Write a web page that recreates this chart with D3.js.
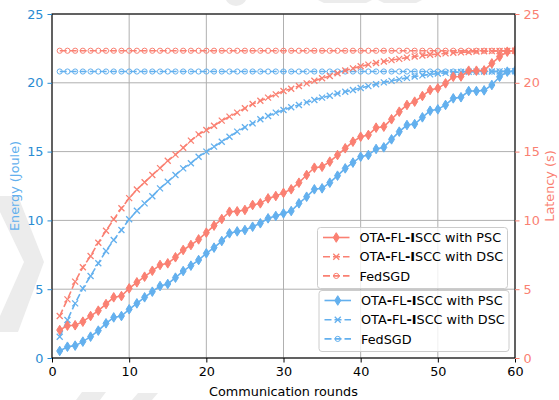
<!DOCTYPE html>
<html>
<head>
<meta charset="utf-8">
<script src="https://cdn.jsdelivr.net/npm/d3@7"></script>
<style>
  body { margin: 0; background: #fff; }
  svg { display: block; font-family: "DejaVu Sans", sans-serif; }
</style>
</head>
<body>
<div id="chart"></div>
<script>
// Energy (left axis) and latency (right axis) per communication round.
const rounds = d3.range(1, 61);

const energyPSC = [0.51, 0.82, 0.90, 1.19, 1.55, 1.99, 2.52, 2.95, 3.05, 3.54,
  3.97, 4.41, 4.82, 5.23, 5.38, 5.84, 6.32, 6.71, 7.12, 7.61,
  8.02, 8.50, 9.06, 9.20, 9.30, 9.54, 9.79, 10.15, 10.32, 10.51,
  10.68, 11.24, 11.72, 12.26, 12.33, 12.74, 13.25, 13.78, 14.20, 14.63,
  14.75, 15.19, 15.31, 15.89, 16.45, 16.93, 17.00, 17.49, 17.97, 18.07,
  18.39, 18.87, 18.95, 19.40, 19.40, 19.45, 19.84, 20.44, 20.81, 20.85];
const energyDSC = [1.55, 2.76, 3.97, 5.06, 5.96, 6.88, 7.78, 8.58, 9.30, 10.08,
  10.70, 11.24, 11.75, 12.33, 12.81, 13.30, 13.78, 14.15, 14.63, 15.00,
  15.36, 15.72, 16.08, 16.45, 16.77, 17.05, 17.35, 17.59, 17.83, 18.02,
  18.22, 18.39, 18.58, 18.75, 18.92, 19.06, 19.22, 19.35, 19.48, 19.62,
  19.76, 19.90, 20.03, 20.14, 20.25, 20.36, 20.46, 20.54, 20.61, 20.67,
  20.72, 20.76, 20.78, 20.80, 20.81, 20.82, 20.82, 20.83, 20.83, 20.84];
const energyFedSGD = [20.82, 20.82, 20.82, 20.82, 20.82, 20.82, 20.82, 20.82, 20.82, 20.82,
  20.82, 20.82, 20.82, 20.82, 20.82, 20.82, 20.82, 20.82, 20.82, 20.82,
  20.82, 20.82, 20.82, 20.82, 20.82, 20.82, 20.82, 20.82, 20.82, 20.82,
  20.82, 20.82, 20.82, 20.82, 20.82, 20.82, 20.82, 20.82, 20.82, 20.82,
  20.82, 20.82, 20.82, 20.82, 20.82, 20.82, 20.82, 20.82, 20.82, 20.82,
  20.82, 20.82, 20.82, 20.82, 20.82, 20.82, 20.82, 20.82, 20.82, 20.82];

const latencyPSC = [2.03, 2.35, 2.38, 2.64, 3.05, 3.44, 3.92, 4.41, 4.50, 5.06,
  5.50, 5.91, 6.34, 6.76, 6.88, 7.32, 7.85, 8.21, 8.62, 9.11,
  9.62, 10.10, 10.63, 10.66, 10.76, 11.12, 11.24, 11.60, 11.77, 12.00,
  12.26, 12.74, 13.30, 13.83, 13.90, 14.27, 14.75, 15.24, 15.72, 16.08,
  16.21, 16.74, 16.81, 17.35, 17.90, 18.39, 18.63, 19.04, 19.48, 19.60,
  19.96, 20.44, 20.46, 20.88, 20.88, 20.90, 21.41, 21.90, 22.26, 22.33];
const latencyDSC = [3.05, 4.26, 5.55, 6.59, 7.41, 8.38, 9.25, 10.08, 10.88, 11.62,
  12.24, 12.77, 13.30, 13.80, 14.33, 14.78, 15.28, 15.80, 16.25, 16.57,
  16.88, 17.25, 17.54, 17.83, 18.15, 18.46, 18.70, 18.92, 19.16, 19.40,
  19.57, 19.77, 19.96, 20.15, 20.33, 20.49, 20.69, 20.90, 21.05, 21.20,
  21.32, 21.44, 21.55, 21.65, 21.74, 21.83, 21.91, 21.98, 22.04, 22.09,
  22.14, 22.18, 22.21, 22.24, 22.27, 22.29, 22.30, 22.31, 22.32, 22.33];
const latencyFedSGD = [22.33, 22.33, 22.33, 22.33, 22.33, 22.33, 22.33, 22.33, 22.33, 22.33,
  22.33, 22.33, 22.33, 22.33, 22.33, 22.33, 22.33, 22.33, 22.33, 22.33,
  22.33, 22.33, 22.33, 22.33, 22.33, 22.33, 22.33, 22.33, 22.33, 22.33,
  22.33, 22.33, 22.33, 22.33, 22.33, 22.33, 22.33, 22.33, 22.33, 22.33,
  22.33, 22.33, 22.33, 22.33, 22.33, 22.33, 22.33, 22.33, 22.33, 22.33,
  22.33, 22.33, 22.33, 22.33, 22.33, 22.33, 22.33, 22.33, 22.33, 22.33];

const xTicks = [0, 10, 20, 30, 40, 50, 60];
const yTicks = [0, 5, 10, 15, 20, 25];
const seriesNames = ['with PSC', 'with DSC', 'FedSGD'];

const W = 559, H = 400;
const margin = { top: 14, right: 44, bottom: 42, left: 52 };
const width = W - margin.left - margin.right;
const height = H - margin.top - margin.bottom;

const BLUE = '#63b0ee', BLUE_TICK = '#2a8bd2', SALMON = '#fa8072';
const FS = '12.8px';

const svg = d3.select('#chart').append('svg')
  .attr('width', W).attr('height', H);

svg.append('rect').attr('width', W).attr('height', H).attr('fill', '#fff');

// faint watermark shapes showing in the margins of the source image
const wm = svg.append('g').attr('fill', '#ececec');
wm.append('path').attr('d', 'M0,196L18,196L44,262L18,332L0,332L0,316L24,262L0,212Z');
wm.append('path').attr('d', 'M226,0L246,0Q244,5 236,6Q228,5 226,0Z');
wm.append('path').attr('d', 'M318,0L372,0L366,3L324,3Z');
wm.append('path').attr('d', 'M378,0L422,0L416,3L384,3Z');
wm.append('path').attr('d', 'M76,400L82,392L106,392L100,400Z');
wm.append('path').attr('d', 'M132,400L138,393L158,393L152,400Z');

const g = svg.append('g').attr('transform', `translate(${margin.left},${margin.top})`);

const x = d3.scaleLinear().domain([0, 60]).range([0, width]);
const yE = d3.scaleLinear().domain([0, 25]).range([height, 0]);
const yL = d3.scaleLinear().domain([0, 25]).range([height, 0]);

g.append('rect').attr('width', width).attr('height', height).attr('fill', '#fff');
g.append('clipPath').attr('id', 'plot-clip')
  .append('rect').attr('width', width).attr('height', height);

// grid
const grid = g.append('g').attr('stroke', '#b0b0b0').attr('stroke-width', 1);
grid.selectAll('line.vx').data(xTicks).join('line')
  .attr('x1', d => x(d)).attr('x2', d => x(d)).attr('y1', 0).attr('y2', height);
grid.selectAll('line.hy').data(yTicks).join('line')
  .attr('x1', 0).attr('x2', width).attr('y1', d => yE(d)).attr('y2', d => yE(d));

// marker shapes
function drawMarker(sel, kind, color) {
  if (kind === 'diamond') {
    sel.append('path').attr('d', 'M0,-4.8L3,0L0,4.8L-3,0Z')
      .attr('fill', color).attr('stroke', color).attr('stroke-width', 1);
  } else if (kind === 'x') {
    sel.append('path').attr('d', 'M-3,-3L3,3M-3,3L3,-3')
      .attr('fill', 'none').attr('stroke', color).attr('stroke-width', 1.3);
  } else {
    sel.append('circle').attr('r', 2.6)
      .attr('fill', 'none').attr('stroke', color).attr('stroke-width', 1);
  }
}

const energySeries = [
  { values: energyPSC, marker: 'diamond', dash: null },
  { values: energyDSC, marker: 'x', dash: '7,3' },
  { values: energyFedSGD, marker: 'circle', dash: '7,3' }
];
const latencySeries = [
  { values: latencyPSC, marker: 'diamond', dash: null },
  { values: latencyDSC, marker: 'x', dash: '7,3' },
  { values: latencyFedSGD, marker: 'circle', dash: '7,3' }
];

function drawSeries(list, y, color) {
  const layer = g.append('g').attr('clip-path', 'url(#plot-clip)');
  const line = d3.line().x((d, i) => x(rounds[i])).y(d => y(d));
  list.forEach(s => {
    layer.append('path').datum(s.values)
      .attr('d', line).attr('fill', 'none')
      .attr('stroke', color).attr('stroke-width', 1.6)
      .attr('stroke-dasharray', s.dash);
    layer.append('g').selectAll('g').data(s.values).join('g')
      .attr('transform', (d, i) => `translate(${x(rounds[i])},${y(d)})`)
      .each(function() { drawMarker(d3.select(this), s.marker, color); });
  });
}

drawSeries(energySeries, yE, BLUE);
drawSeries(latencySeries, yL, SALMON);

// legends
function legend(bx, by, color, list) {
  const lg = svg.append('g').attr('transform', `translate(${bx},${by})`)
    .style('font-size', FS);
  lg.append('rect').attr('width', 190).attr('height', 61).attr('rx', 3)
    .attr('fill', '#fff').attr('fill-opacity', 0.8)
    .attr('stroke', '#cccccc').attr('stroke-width', 1);
  list.forEach((s, i) => {
    const row = lg.append('g').attr('transform', `translate(0,${10 + i * 19.2})`);
    row.append('line').attr('x1', 5.5).attr('x2', 32).attr('y1', 0).attr('y2', 0)
      .attr('stroke', color).attr('stroke-width', 1.6)
      .attr('stroke-dasharray', s.dash);
    drawMarker(row.append('g').attr('transform', 'translate(18.75,0)'), s.marker, color);
    const t = row.append('text').attr('x', 42).attr('y', 4.6).attr('fill', '#000');
    if (i < 2) {
      t.append('tspan').text('OTA');
      t.append('tspan').attr('font-weight', 'bold').text('-');
      t.append('tspan').text('FL');
      t.append('tspan').attr('font-weight', 'bold').text('-I');
      t.append('tspan').text('SCC ' + seriesNames[i]);
    } else {
      t.text(seriesNames[i]);
    }
  });
}
legend(317.5, 227.5, SALMON, latencySeries);
legend(319, 290.5, BLUE, energySeries);

// spines
const spines = g.append('g').attr('stroke', '#000').attr('stroke-width', 1.1).attr('fill', 'none');
spines.append('rect').attr('width', width).attr('height', height);

// axes
const xAxis = g.append('g').attr('transform', `translate(0,${height})`)
  .call(d3.axisBottom(x).tickValues(xTicks).tickSize(4.5).tickPadding(4));
const leftAxis = g.append('g')
  .call(d3.axisLeft(yE).tickValues(yTicks).tickSize(4.5).tickPadding(4));
const rightAxis = g.append('g').attr('transform', `translate(${width},0)`)
  .call(d3.axisRight(yL).tickValues(yTicks).tickSize(4.5).tickPadding(4));

[xAxis, leftAxis, rightAxis].forEach(a => {
  a.select('.domain').remove();
  a.selectAll('text').style('font-size', FS).style('font-family', '"DejaVu Sans", sans-serif');
});
xAxis.selectAll('line').attr('stroke', '#000');
xAxis.selectAll('text').attr('fill', '#000');
leftAxis.selectAll('line').attr('stroke', BLUE_TICK);
leftAxis.selectAll('text').attr('fill', BLUE_TICK);
rightAxis.selectAll('line').attr('stroke', SALMON);
rightAxis.selectAll('text').attr('fill', SALMON);

// axis titles
svg.append('text').attr('x', margin.left + width / 2).attr('y', 395.5)
  .attr('text-anchor', 'middle').style('font-size', FS).text('Communication rounds');
svg.append('text').attr('transform', `translate(18.5,${margin.top + height / 2}) rotate(-90)`)
  .attr('text-anchor', 'middle').attr('fill', BLUE).style('font-size', FS).text('Energy (Joule)');
svg.append('text').attr('transform', `translate(554,${margin.top + height / 2}) rotate(-90)`)
  .attr('text-anchor', 'middle').attr('fill', SALMON).style('font-size', FS).text('Latency (s)');
</script>
</body>
</html>
